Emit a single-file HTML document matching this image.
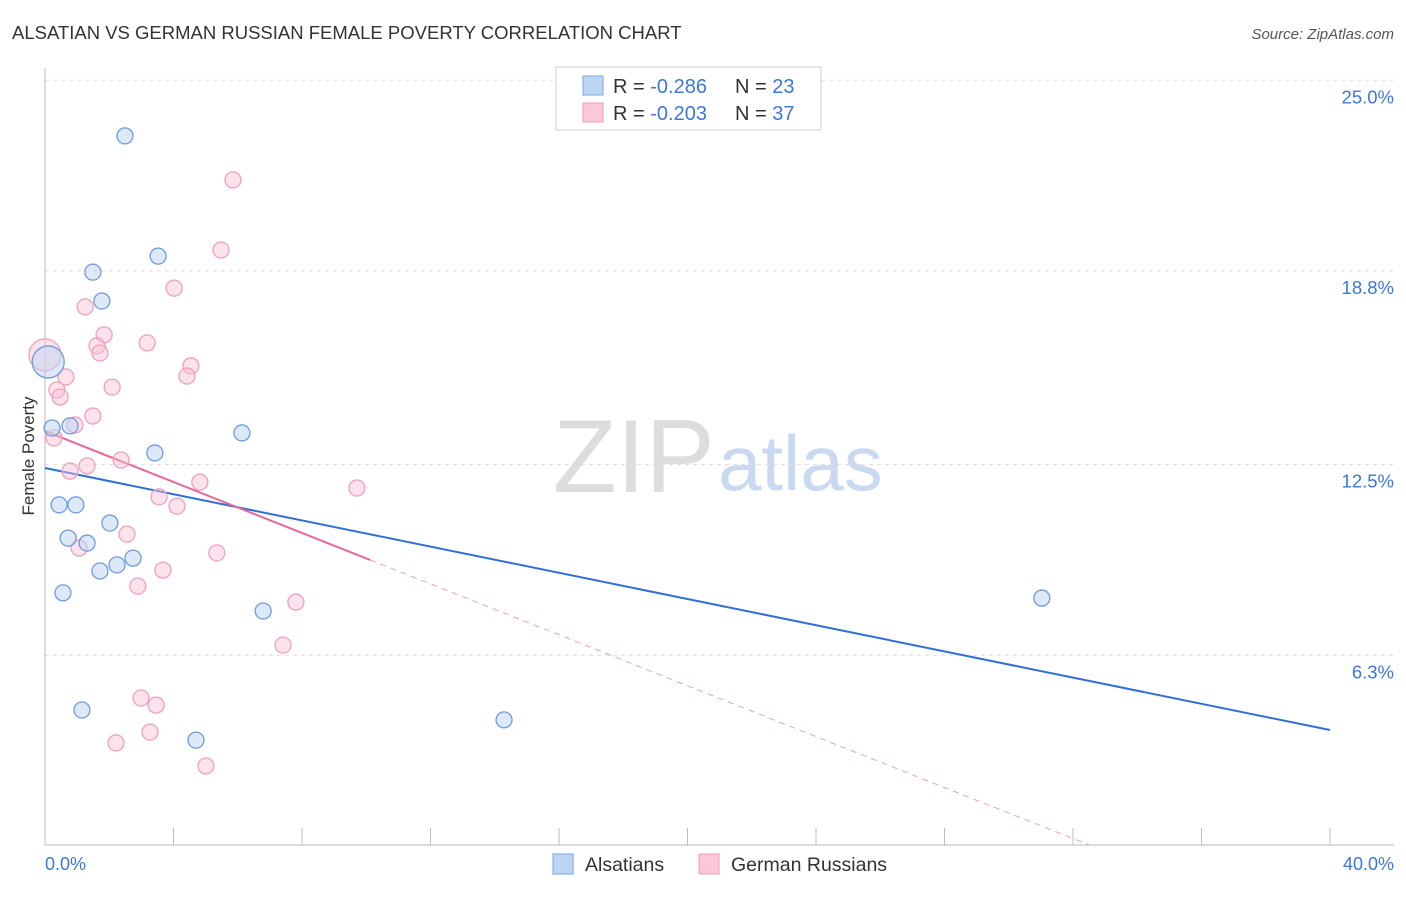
<!DOCTYPE html>
<html><head><meta charset="utf-8"><style>
body{margin:0;background:#fff;font-family:"Liberation Sans",sans-serif}
svg text{font-family:"Liberation Sans",sans-serif}
</style></head><body>
<svg id="chart" width="1406" height="892" xmlns="http://www.w3.org/2000/svg">
<text x="12" y="39" font-size="18.5" fill="#333">ALSATIAN VS GERMAN RUSSIAN FEMALE POVERTY CORRELATION CHART</text>
<text x="1394" y="39" font-size="15" fill="#555" font-style="italic" text-anchor="end">Source: ZipAtlas.com</text>
<text x="553" y="492" font-size="104" fill="#ddd" font-family="Liberation Serif">ZIP</text>
<text x="718" y="490" font-size="78" fill="#c9daf0">atlas</text>
<g id="grid"></g><g id="axes"></g><g id="lines"></g><g id="pts"></g>
<text transform="translate(34,456) rotate(-90)" font-size="17" fill="#333" text-anchor="middle">Female Poverty</text>
<text x="45" y="870" font-size="18" fill="#3b78d8">0.0%</text>
<text x="1394" y="870" font-size="18" fill="#3b78d8" text-anchor="end">40.0%</text>
<g>
<rect x="556" y="67" width="265" height="63" fill="#fff" stroke="#ccc"/>
<rect x="583" y="76" width="20" height="19" fill="#bcd5f5" stroke="#7aa6e6"/>
<rect x="583" y="103" width="20" height="19" fill="#fbc8d8" stroke="#f09ab5"/>
<text x="613" y="93" font-size="20" fill="#333">R = <tspan fill="#3b78d8">-0.286</tspan><tspan x="735">N = </tspan><tspan fill="#3b78d8">23</tspan></text>
<text x="613" y="120" font-size="20" fill="#333">R = <tspan fill="#3b78d8">-0.203</tspan><tspan x="735">N = </tspan><tspan fill="#3b78d8">37</tspan></text>
</g>
<g>
<rect x="553" y="854" width="20" height="20" fill="#bcd5f5" stroke="#7aa6e6"/>
<text x="585" y="871" font-size="19.5" fill="#333">Alsatians</text>
<rect x="699" y="854" width="20" height="20" fill="#fbc8d8" stroke="#f09ab5"/>
<text x="731" y="871" font-size="19.5" fill="#333">German Russians</text>
</g>
</svg>
<script>
const yTicks=[25.0,18.8,12.5,6.3];
const yTickLabels=["25.0%","18.8%","12.5%","6.3%"];
const xTicks=[0,4,8,12,16,20,24,28,32,36,40];
const blueX=[2.49,3.52,1.49,1.77,0.1,0.22,0.78,3.42,6.13,0.44,0.96,2.02,0.72,1.31,1.71,2.24,2.74,0.56,6.79,31.03,1.15,4.70,14.29];
const blueY=[23.19,19.28,18.76,17.82,15.84,13.69,13.76,12.88,13.53,11.19,11.19,10.60,10.11,9.95,9.04,9.24,9.46,8.33,7.74,8.16,4.52,3.54,4.20];
const pinkX=[5.85,5.48,4.02,1.25,1.84,3.18,1.62,1.71,0.0,4.54,4.42,0.65,2.09,0.37,0.47,1.49,0.93,0.28,2.37,1.31,0.78,4.82,9.71,3.55,4.11,2.55,5.35,1.06,3.67,2.89,7.81,7.41,2.99,3.46,3.27,2.21,5.01];
const pinkY=[21.76,19.48,18.24,17.63,16.72,16.46,16.36,16.13,16.07,15.71,15.38,15.35,15.02,14.93,14.70,14.08,13.79,13.37,12.65,12.46,12.29,11.93,11.74,11.45,11.15,10.24,9.63,9.79,9.07,8.55,8.03,6.63,4.91,4.68,3.80,3.45,2.70];
const blueTrend=[12.39,3.87];
const pinkTrend=[13.59,-0.414];
const X=v=>45+v/40*1285, Y=v=>849-v*30.75;
const NS="http://www.w3.org/2000/svg";
function mk(p,tag,a){const e=document.createElementNS(NS,tag);for(const k in a)e.setAttribute(k,a[k]);document.getElementById(p).appendChild(e);return e;}
yTicks.forEach((t,i)=>{
 const l=mk('grid','line',{x1:45,x2:1394,y1:Y(t),y2:Y(t),stroke:'#ddd','stroke-dasharray':'4,4'});
 
 
 const tx=mk('grid','text',{x:1394,y:Y(t)+23,'font-size':18.5,fill:'#3b78d8','text-anchor':'end'});tx.textContent=yTickLabels[i];
 
 
});
let a=mk('axes','line',{x1:45,x2:45,y1:68,y2:845,stroke:'#bbb'});


a=mk('axes','line',{x1:45,x2:1394,y1:845,y2:845,stroke:'#bbb'});


xTicks.forEach(t=>{const l=mk('axes','line',{x1:X(t),x2:X(t),y1:828,y2:845,stroke:'#bbb'});
 
 });
let bl=mk('lines','line',{x1:X(0),y1:Y(blueTrend[0]),x2:X(40),y2:Y(blueTrend[1]),stroke:'#2f6fd6','stroke-width':2});


const pEnd=10.12, yStop=(849-845)/30.75, pZero=(yStop-pinkTrend[0])/pinkTrend[1];
let pl=mk('lines','line',{x1:X(0),y1:Y(pinkTrend[0]),x2:X(pEnd),y2:Y(pinkTrend[0]+pinkTrend[1]*pEnd),stroke:'#e8679a','stroke-width':2});


let pd=mk('lines','line',{x1:X(pEnd),y1:Y(pinkTrend[0]+pinkTrend[1]*pEnd),x2:X(pZero),y2:Y(yStop),stroke:'#e8a0bd','stroke-width':1,'stroke-dasharray':'6,5'});


pinkX.forEach((x,i)=>{const c=mk('pts','circle',{cx:X(x),cy:Y(pinkY[i]),r:x===0?16:8,fill:'rgba(248,190,210,0.45)',stroke:'#f0a0bd','stroke-width':1.3});
 
 });
blueX.forEach((x,i)=>{const c=mk('pts','circle',{cx:X(x),cy:Y(blueY[i]),r:x<0.15?16:8,fill:'rgba(190,212,242,0.5)',stroke:'#6b9ce0','stroke-width':1.3});
 
 });
</script>
</body></html>
